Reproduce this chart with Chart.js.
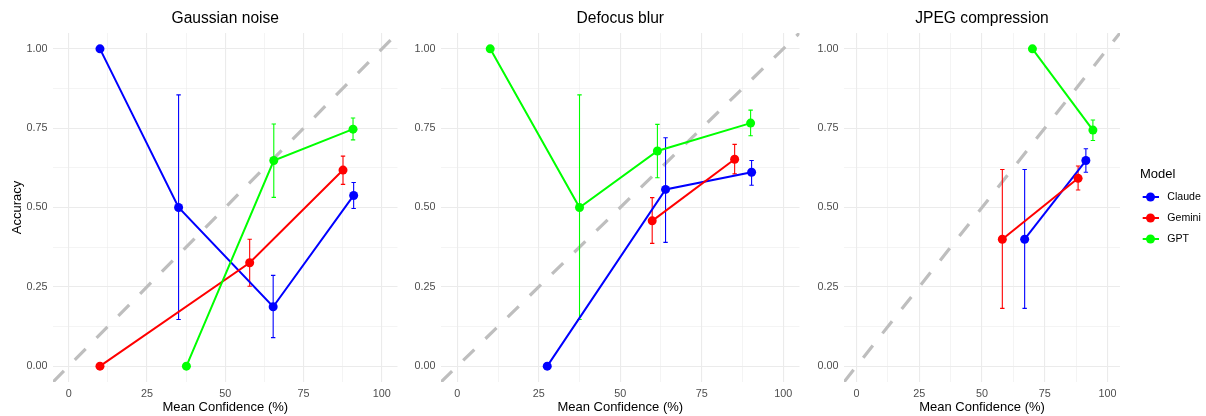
<!DOCTYPE html>
<html lang="en">
<head>
<meta charset="UTF-8" />
<title>Accuracy vs mean confidence</title>
<script src="https://cdn.jsdelivr.net/npm/chart.js"></script>
<style>
  body { margin: 0; background: #ffffff; }
  #wrap { position: relative; width: 1206px; height: 416px; }
  canvas { position: absolute; top: 0; }
</style>
</head>
<body>
<div id="wrap">
  <canvas id="c1" width="402" height="416" style="left:0px"></canvas>
  <canvas id="c2" width="402" height="416" style="left:402px"></canvas>
  <canvas id="c3" width="402" height="416" style="left:804px"></canvas>
</div>
<script>
const models = ['Claude', 'Gemini', 'GPT'];
const panelTitles = ['Gaussian noise', 'Defocus blur', 'JPEG compression'];
const xTicks = [0, 25, 50, 75, 100];
const xMinorTicks = [12.5, 37.5, 62.5, 87.5];
const yTicks = [0, 0.25, 0.5, 0.75, 1];
const yMinorTicks = [0.125, 0.375, 0.625, 0.875];

// Gaussian noise
const gaussClaudeX = [10.0, 35.1, 65.3, 91.0];
const gaussClaudeY = [1.0, 0.50, 0.187, 0.538];
const gaussClaudeLo = [null, 0.147, 0.090, 0.497];
const gaussClaudeHi = [null, 0.855, 0.286, 0.579];
const gaussGeminiX = [10.0, 57.8, 87.6];
const gaussGeminiY = [0.0, 0.326, 0.618];
const gaussGeminiLo = [null, 0.252, 0.573];
const gaussGeminiHi = [null, 0.400, 0.662];
const gaussGptX = [37.6, 65.5, 90.8];
const gaussGptY = [0.0, 0.648, 0.747];
const gaussGptLo = [null, 0.532, 0.713];
const gaussGptHi = [null, 0.763, 0.782];

// Defocus blur
const defocusClaudeX = [27.6, 63.9, 90.3];
const defocusClaudeY = [0.0, 0.557, 0.611];
const defocusClaudeLo = [null, 0.390, 0.570];
const defocusClaudeHi = [null, 0.720, 0.648];
const defocusGeminiX = [59.8, 85.1];
const defocusGeminiY = [0.458, 0.652];
const defocusGeminiLo = [0.387, 0.606];
const defocusGeminiHi = [0.531, 0.699];
const defocusGptX = [10.1, 37.5, 61.4, 90.0];
const defocusGptY = [1.0, 0.50, 0.678, 0.766];
const defocusGptLo = [null, 0.147, 0.594, 0.726];
const defocusGptHi = [null, 0.855, 0.762, 0.807];

// JPEG compression
const jpegClaudeX = [67.0, 91.4];
const jpegClaudeY = [0.40, 0.648];
const jpegClaudeLo = [0.182, 0.611];
const jpegClaudeHi = [0.620, 0.685];
const jpegGeminiX = [58.1, 88.3];
const jpegGeminiY = [0.40, 0.592];
const jpegGeminiLo = [0.182, 0.555];
const jpegGeminiHi = [0.620, 0.631];
const jpegGptX = [70.1, 94.2];
const jpegGptY = [1.0, 0.744];
const jpegGptLo = [null, 0.711];
const jpegGptHi = [null, 0.776];

const modelColors = ['#0000FF', '#FF0000', '#00FF00'];
const FONT = '"Liberation Sans", Arial, Helvetica, sans-serif';
const gridColor = '#EBEBEB';
const tickColor = '#4D4D4D';

// dashed identity line + error bars, drawn under the series
const underlayPlugin = {
  id: 'underlay',
  beforeDatasetsDraw(chart) {
    const {ctx, chartArea, scales: {x, y}} = chart;
    ctx.save();
    ctx.beginPath();
    ctx.rect(chartArea.left, chartArea.top, chartArea.right - chartArea.left, chartArea.bottom - chartArea.top);
    ctx.clip();
    // y = x / 100 reference
    ctx.strokeStyle = '#BEBEBE';
    ctx.lineWidth = 3.2;
    ctx.setLineDash([15.5, 15.5]);
    ctx.lineCap = 'butt';
    ctx.beginPath();
    ctx.moveTo(x.getPixelForValue(x.min), y.getPixelForValue(x.min / 100));
    ctx.lineTo(x.getPixelForValue(x.max), y.getPixelForValue(x.max / 100));
    ctx.stroke();
    ctx.setLineDash([]);
    // error bars
    chart.data.datasets.forEach(ds => {
      ctx.strokeStyle = ds.borderColor;
      ctx.lineWidth = 1.1;
      ds.data.forEach((p, j) => {
        const lo = ds.errLo[j], hi = ds.errHi[j];
        if (lo == null || hi == null) return;
        const px = x.getPixelForValue(p.x);
        const py1 = y.getPixelForValue(lo);
        const py2 = y.getPixelForValue(hi);
        ctx.beginPath();
        ctx.moveTo(px, py1); ctx.lineTo(px, py2);
        ctx.moveTo(px - 2.2, py1); ctx.lineTo(px + 2.2, py1);
        ctx.moveTo(px - 2.2, py2); ctx.lineTo(px + 2.2, py2);
        ctx.stroke();
      });
    });
    ctx.restore();
  }
};

// panel title centred over the plotting area
const panelTitlePlugin = {
  id: 'panelTitle',
  afterDraw(chart, args, opts) {
    const {ctx, chartArea} = chart;
    ctx.save();
    ctx.font = '15.6px ' + FONT;
    ctx.fillStyle = '#000000';
    ctx.textAlign = 'center';
    ctx.textBaseline = 'alphabetic';
    ctx.fillText(opts.text, (chartArea.left + chartArea.right) / 2, 23);
    ctx.restore();
  }
};

// ggplot-style legend on the right of the last panel
const sideLegendPlugin = {
  id: 'sideLegend',
  afterDraw(chart) {
    const {ctx} = chart;
    const left = 336;
    ctx.save();
    ctx.fillStyle = '#000000';
    ctx.font = '13px ' + FONT;
    ctx.textAlign = 'left';
    ctx.textBaseline = 'middle';
    ctx.fillText('Model', left, 174);
    ctx.font = '10.6px ' + FONT;
    models.forEach((m, i) => {
      const cy = 197 + i * 21;
      ctx.strokeStyle = modelColors[i];
      ctx.fillStyle = modelColors[i];
      ctx.lineWidth = 2;
      ctx.beginPath();
      ctx.moveTo(left + 2.7, cy); ctx.lineTo(left + 19, cy);
      ctx.stroke();
      ctx.beginPath();
      ctx.arc(left + 10.5, cy, 4.5, 0, Math.PI * 2);
      ctx.fill();
      ctx.fillStyle = '#000000';
      ctx.fillText(m, left + 27.3, cy + 0.5);
    });
    ctx.restore();
  }
};

function makePanel(id, title, series, yAxisWidth, rightPad, showYTitle, withLegend) {
  const datasets = series.map((s, i) => ({
    label: models[i],
    data: s.x.map((v, j) => ({x: v, y: s.y[j]})),
    errLo: s.lo,
    errHi: s.hi,
    borderColor: modelColors[i],
    backgroundColor: modelColors[i],
    borderWidth: 2,
    pointRadius: 4.5,
    pointHoverRadius: 4.5,
    pointBorderWidth: 0,
    tension: 0,
    fill: false,
    order: 2 - i
  }));
  return new Chart(document.getElementById(id), {
    type: 'line',
    data: {datasets},
    options: {
      responsive: false,
      animation: false,
      events: [],
      layout: {padding: {top: 33, left: 0, right: rightPad, bottom: 0}},
      scales: {
        x: {
          type: 'linear',
          min: -5,
          max: 105,
          afterBuildTicks: axis => {
            axis.ticks = xTicks.concat(xMinorTicks).sort((a, b) => a - b).map(v => ({value: v}));
          },
          afterFit: axis => { axis.height = 34; },
          border: {display: false},
          grid: {
            drawTicks: false,
            color: gridColor,
            lineWidth: c => xTicks.includes(c.tick && c.tick.value) ? 1.1 : 0.55
          },
          ticks: {
            autoSkip: false,
            maxRotation: 0,
            padding: 5.2,
            color: tickColor,
            font: {family: FONT, size: 10.8},
            callback: v => xTicks.includes(v) ? String(v) : ''
          },
          title: {
            display: true,
            text: 'Mean Confidence (%)',
            color: '#000000',
            font: {family: FONT, size: 13},
            padding: {top: 0, bottom: 0.6}
          }
        },
        y: {
          type: 'linear',
          min: -0.05,
          max: 1.05,
          afterBuildTicks: axis => {
            axis.ticks = yTicks.concat(yMinorTicks).sort((a, b) => a - b).map(v => ({value: v}));
          },
          afterFit: axis => { axis.width = yAxisWidth; },
          border: {display: false},
          grid: {
            drawTicks: false,
            color: gridColor,
            lineWidth: c => yTicks.includes(c.tick && c.tick.value) ? 1.1 : 0.55
          },
          ticks: {
            autoSkip: false,
            padding: 5.5,
            color: tickColor,
            font: {family: FONT, size: 10.8},
            callback: v => yTicks.includes(v) ? v.toFixed(2) : ''
          },
          title: {
            display: showYTitle,
            text: 'Accuracy',
            color: '#000000',
            font: {family: FONT, size: 13},
            padding: {top: 9.5, bottom: 0}
          }
        }
      },
      plugins: {
        legend: {display: false},
        tooltip: {enabled: false},
        panelTitle: {text: title}
      }
    },
    plugins: withLegend ? [underlayPlugin, panelTitlePlugin, sideLegendPlugin] : [underlayPlugin, panelTitlePlugin]
  });
}

makePanel('c1', panelTitles[0], [
  {x: gaussClaudeX, y: gaussClaudeY, lo: gaussClaudeLo, hi: gaussClaudeHi},
  {x: gaussGeminiX, y: gaussGeminiY, lo: gaussGeminiLo, hi: gaussGeminiHi},
  {x: gaussGptX, y: gaussGptY, lo: gaussGptLo, hi: gaussGptHi}
], 53, 1, true, false);

makePanel('c2', panelTitles[1], [
  {x: defocusClaudeX, y: defocusClaudeY, lo: defocusClaudeLo, hi: defocusClaudeHi},
  {x: defocusGeminiX, y: defocusGeminiY, lo: defocusGeminiLo, hi: defocusGeminiHi},
  {x: defocusGptX, y: defocusGptY, lo: defocusGptLo, hi: defocusGptHi}
], 39, 0, false, false);

makePanel('c3', panelTitles[2], [
  {x: jpegClaudeX, y: jpegClaudeY, lo: jpegClaudeLo, hi: jpegClaudeHi},
  {x: jpegGeminiX, y: jpegGeminiY, lo: jpegGeminiLo, hi: jpegGeminiHi},
  {x: jpegGptX, y: jpegGptY, lo: jpegGptLo, hi: jpegGptHi}
], 40, 86, false, true);
</script>
</body>
</html>
